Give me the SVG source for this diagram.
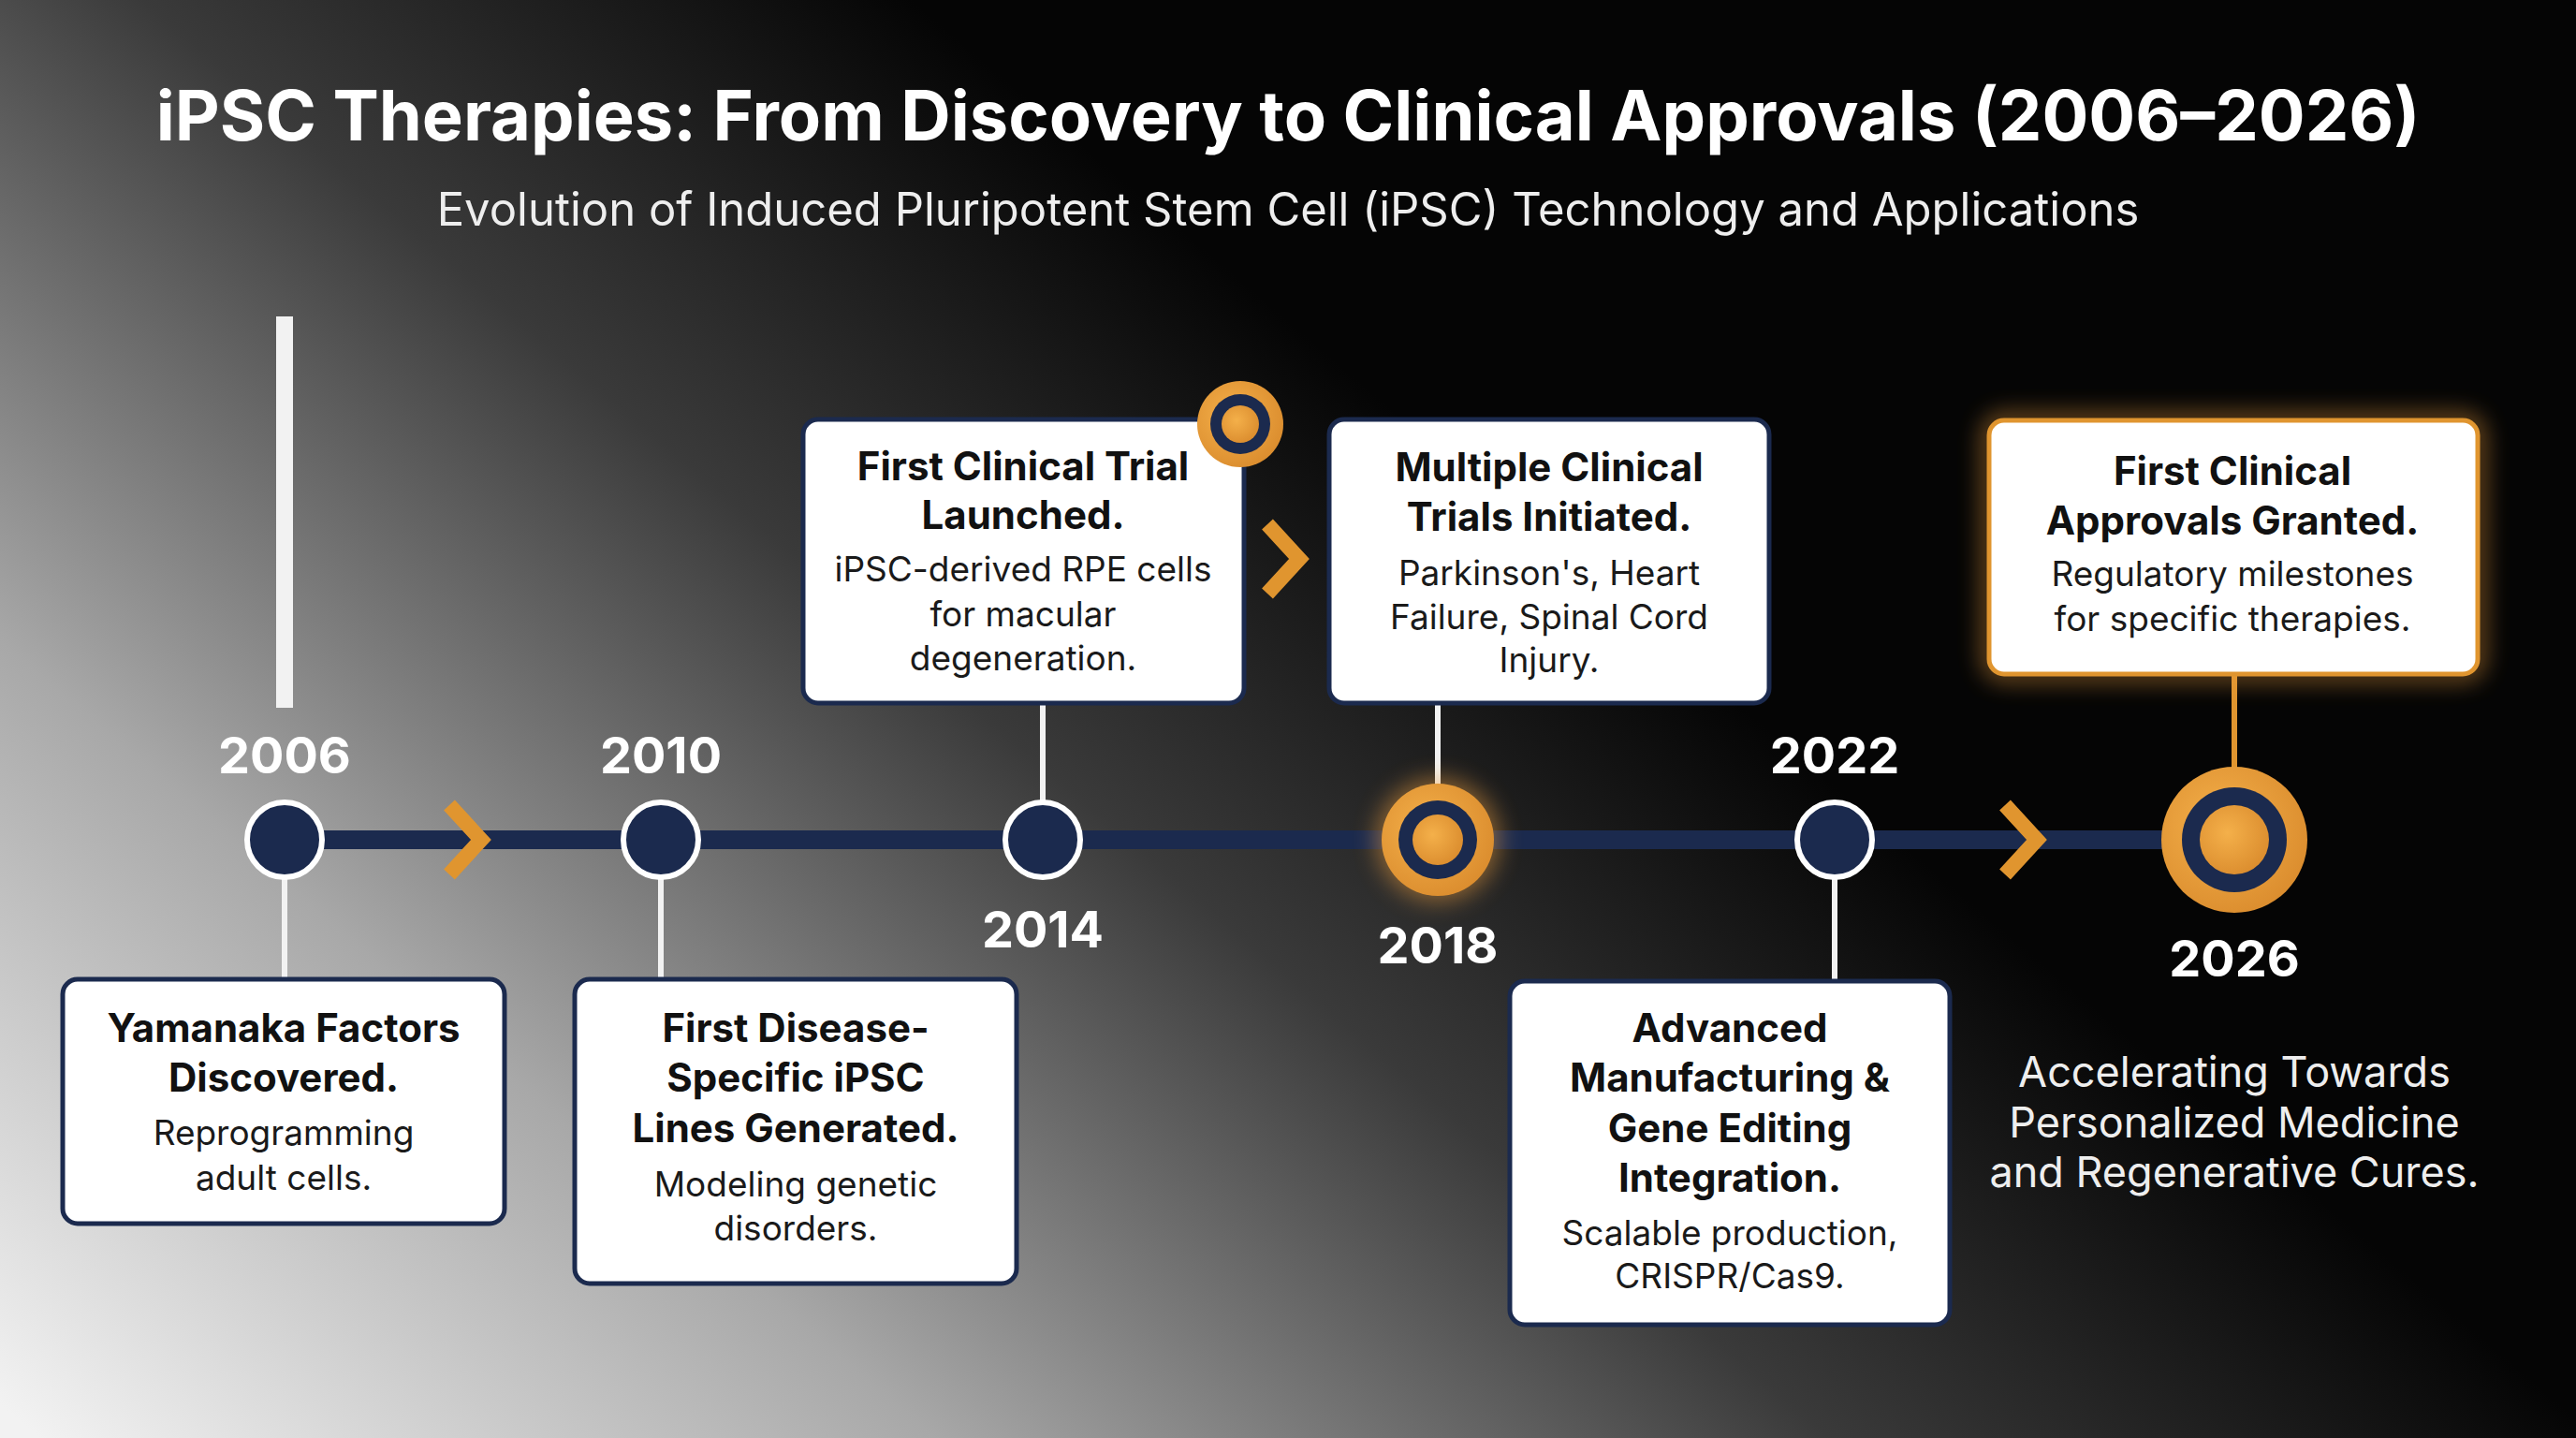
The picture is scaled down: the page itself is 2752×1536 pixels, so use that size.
<svg xmlns="http://www.w3.org/2000/svg" width="2752" height="1536" viewBox="0 0 2752 1536">
<defs>
<linearGradient id="bg" x1="0" y1="1500" x2="1150" y2="150" gradientUnits="userSpaceOnUse">
<stop offset="0" stop-color="#f2f2f2"/><stop offset="0.35" stop-color="#a8a8a8"/><stop offset="0.7" stop-color="#3a3a3a"/><stop offset="1" stop-color="#050505"/>
</linearGradient>
<radialGradient id="gold" cx="0.4" cy="0.4" r="0.7"><stop offset="0" stop-color="#f4b04a"/><stop offset="1" stop-color="#d98a2c"/></radialGradient>
<filter id="glow" x="-30%" y="-30%" width="160%" height="160%"><feGaussianBlur stdDeviation="12"/></filter>
<style>
.t{font-family:Inter,"Liberation Sans",sans-serif;text-anchor:middle;dominant-baseline:central}
.h{font-size:42px;font-weight:700;fill:#111}
.b{font-size:37px;fill:#1a1a1a}
.yr{font-size:54px;font-weight:700;fill:#fff}
.box{fill:#fff;stroke:#1b2a4e;stroke-width:5}
.ln{stroke:#f2f2f2;stroke-width:6}
.dot{fill:#1b2a4e;stroke:#fff;stroke-width:6}
.chev{fill:none;stroke:#e0952f;stroke-width:16}
</style>
</defs>
<rect width="2752" height="1536" fill="url(#bg)"/>
<text class="t" x="1376" y="123" style="font-size:74px;font-weight:700;fill:#fff">iPSC Therapies: From Discovery to Clinical Approvals (2006–2026)</text>
<text class="t" x="1376" y="223" style="font-size:49px;fill:#eee">Evolution of Induced Pluripotent Stem Cell (iPSC) Technology and Applications</text>
<rect x="295" y="338" width="18" height="418" fill="#f2f2f2"/>
<g id="connectors">
<line x1="304" y1="897" x2="2387" y2="897" stroke="#1b2a4e" stroke-width="20"/>
<line class="ln" x1="304" y1="897" x2="304" y2="1046"/>
<line class="ln" x1="706" y1="897" x2="706" y2="1046"/>
<line class="ln" x1="1114" y1="897" x2="1114" y2="751"/>
<line class="ln" x1="1536" y1="897" x2="1536" y2="751"/>
<line class="ln" x1="1960" y1="897" x2="1960" y2="1048"/>
<line x1="2387" y1="897" x2="2387" y2="720" stroke="#e0952f" stroke-width="6"/>
<polyline class="chev" points="480,860 514,897 480,934"/>
<polyline class="chev" points="1354,560 1388,597 1354,634"/>
<polyline class="chev" points="2142,860 2176,897 2142,934"/>
</g>
<g id="n2006"><circle class="dot" cx="304" cy="897" r="40"/><text class="t yr" x="304" y="806">2006</text></g>
<g id="n2010"><circle class="dot" cx="706" cy="897" r="40"/><text class="t yr" x="706" y="806">2010</text></g>
<g id="n2014"><circle class="dot" cx="1114" cy="897" r="40"/><text class="t yr" x="1114" y="992">2014</text></g>
<g id="n2018"><circle cx="1536" cy="897" r="66" fill="#f0a040" opacity="0.5" filter="url(#glow)"/><circle cx="1536" cy="897" r="60" fill="url(#gold)"/><circle cx="1536" cy="897" r="42" fill="#1b2a4e"/><circle cx="1536" cy="897" r="27" fill="url(#gold)"/><text class="t yr" x="1536" y="1009">2018</text></g>
<g id="n2022"><circle class="dot" cx="1960" cy="897" r="40"/><text class="t yr" x="1960" y="806">2022</text></g>
<g id="n2026"><circle cx="2387" cy="897" r="78" fill="url(#gold)"/><circle cx="2387" cy="897" r="56" fill="#1b2a4e"/><circle cx="2387" cy="897" r="37" fill="url(#gold)"/><text class="t yr" x="2387" y="1023">2026</text></g>
<g id="box1"><rect class="box" x="67" y="1046" width="472" height="261" rx="16"/>
<text class="t h" x="303" y="1097">Yamanaka Factors</text><text class="t h" x="303" y="1150">Discovered.</text>
<text class="t b" x="303" y="1209">Reprogramming</text><text class="t b" x="303" y="1257">adult cells.</text></g>
<g id="box2"><rect class="box" x="614" y="1046" width="472" height="325" rx="16"/>
<text class="t h" x="850" y="1097">First Disease-</text><text class="t h" x="850" y="1150">Specific iPSC</text><text class="t h" x="850" y="1204">Lines Generated.</text>
<text class="t b" x="850" y="1264">Modeling genetic</text><text class="t b" x="850" y="1311">disorders.</text></g>
<g id="box3"><rect class="box" x="858" y="448" width="471" height="303" rx="16"/>
<text class="t h" x="1093" y="497">First Clinical Trial</text><text class="t h" x="1093" y="549">Launched.</text>
<text class="t b" x="1093" y="607">iPSC-derived RPE cells</text><text class="t b" x="1093" y="655">for macular</text><text class="t b" x="1093" y="702">degeneration.</text>
<circle cx="1325" cy="453" r="46" fill="url(#gold)"/><circle cx="1325" cy="453" r="32" fill="#1b2a4e"/><circle cx="1325" cy="453" r="20" fill="url(#gold)"/></g>
<g id="box4"><rect class="box" x="1420" y="448" width="470" height="303" rx="16"/>
<text class="t h" x="1655" y="498">Multiple Clinical</text><text class="t h" x="1655" y="551">Trials Initiated.</text>
<text class="t b" x="1655" y="611">Parkinson's, Heart</text><text class="t b" x="1655" y="658">Failure, Spinal Cord</text><text class="t b" x="1655" y="704">Injury.</text></g>
<g id="box5"><rect class="box" x="1613" y="1048" width="470" height="367" rx="16"/>
<text class="t h" x="1848" y="1097">Advanced</text><text class="t h" x="1848" y="1150">Manufacturing &amp;</text><text class="t h" x="1848" y="1204">Gene Editing</text><text class="t h" x="1848" y="1257">Integration.</text>
<text class="t b" x="1848" y="1316">Scalable production,</text><text class="t b" x="1848" y="1362">CRISPR/Cas9.</text></g>
<g id="box6"><rect x="2125" y="449" width="522" height="271" rx="16" fill="none" stroke="#f0a040" stroke-width="14" opacity="0.6" filter="url(#glow)"/>
<rect x="2125" y="449" width="522" height="271" rx="16" fill="#fff" stroke="#e0952f" stroke-width="5"/>
<text class="t h" x="2385" y="502">First Clinical</text><text class="t h" x="2385" y="555">Approvals Granted.</text>
<text class="t b" x="2385" y="612">Regulatory milestones</text><text class="t b" x="2385" y="660">for specific therapies.</text></g>
<g id="closing"><text class="t" x="2387" y="1144" style="font-size:45px;fill:#eee">Accelerating Towards</text>
<text class="t" x="2387" y="1198" style="font-size:45px;fill:#eee">Personalized Medicine</text>
<text class="t" x="2387" y="1251" style="font-size:45px;fill:#eee">and Regenerative Cures.</text></g>
</svg>
